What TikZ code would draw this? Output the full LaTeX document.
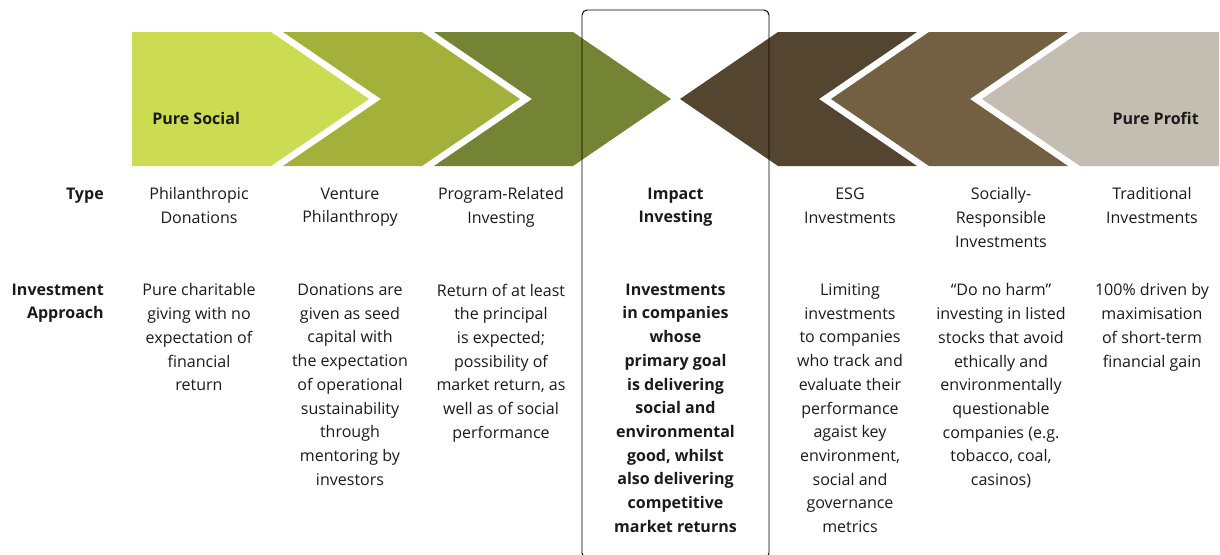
\documentclass[tikz,border=0pt]{standalone}
\usepackage{fontspec}
\setmainfont{Open Sans}

\definecolor{socialA}{RGB}{203,220,83}
\definecolor{socialB}{RGB}{163,177,58}
\definecolor{socialC}{RGB}{116,131,52}
\definecolor{profitC}{RGB}{84,69,48}
\definecolor{profitB}{RGB}{115,96,67}
\definecolor{profitA}{RGB}{196,189,177}
\definecolor{ink}{RGB}{26,26,26}

\tikzset{
  coltext/.style={anchor=north, align=center, inner sep=0pt, text=ink,
    font=\fontsize{11.4}{16.86}\selectfont},
  rowhead/.style={anchor=north east, align=right, inner sep=0pt, text=ink,
    font=\fontsize{11.4}{16.86}\selectfont\bfseries},
  bandtext/.style={inner sep=0pt, text=ink,
    font=\fontsize{11.4}{16.86}\selectfont\bfseries}
}

\begin{document}
\begin{tikzpicture}[x=2.5mm,y=-2.5mm]
\useasboundingbox (0,0) rectangle (122,55.4);
% Chevrons pointing right
\fill[socialA] (13.2,3.2)--(27.1,3.2)--(36.9,9.9)--(27.1,16.6)--(13.2,16.6)--cycle;
\fill[socialB] (28.3,3.2)--(42.2,3.2)--(52.0,9.9)--(42.2,16.6)--(28.3,16.6)--(38.1,9.9)--cycle;
\fill[socialC] (43.4,3.2)--(57.3,3.2)--(67.1,9.9)--(57.3,16.6)--(43.4,16.6)--(53.2,9.9)--cycle;
% Chevrons pointing left
\fill[profitC] (77.8,3.2)--(91.7,3.2)--(81.9,9.9)--(91.7,16.6)--(77.8,16.6)--(68.0,9.9)--cycle;
\fill[profitB] (92.9,3.2)--(106.8,3.2)--(97.0,9.9)--(106.8,16.6)--(92.9,16.6)--(83.1,9.9)--cycle;
\fill[profitA] (108.0,3.2)--(121.9,3.2)--(121.9,16.6)--(108.0,16.6)--(98.2,9.9)--cycle;
% Frame round the middle column
\draw[black,line width=0.7pt,rounded corners=1.25mm] (58.2,1.0) rectangle (76.9,55.8);
% Band labels
\node[bandtext,anchor=base west] (social) at (15.2,12.45) {Pure Social};
\node[bandtext,anchor=base east] (profit) at (119.9,12.45) {Pure Profit};
% Row headings
\node[rowhead] (type) at (10.4,18.75) {Type};
\node[rowhead] (approach) at (10.4,28.35) {Investment\\Approach};
% Type row
\node[coltext] (typeA) at (19.9,18.75) {Philanthropic\\Donations};
\node[coltext] (typeB) at (35.0,18.75) {Venture\\Philanthropy};
\node[coltext] (typeC) at (50.1,18.75) {Program-Related\\Investing};
\node[coltext,font=\fontsize{11.4}{16.86}\selectfont\bfseries] (typeD) at (67.55,18.75) {Impact\\Investing};
\node[coltext] (typeE) at (85.0,18.75) {ESG\\Investments};
\node[coltext] (typeF) at (100.1,18.75) {Socially-\\Responsible\\Investments};
\node[coltext] (typeG) at (115.2,18.75) {Traditional\\Investments};
% Investment approach row
\node[coltext] (appA) at (19.9,28.35) {Pure charitable\\giving with no\\expectation of\\financial\\return};
\node[coltext] (appB) at (35.0,28.35) {Donations are\\given as seed\\capital with\\the expectation\\of operational\\sustainability\\through\\mentoring by\\investors};
\node[coltext] (appC) at (50.1,28.35) {Return of at least\\the principal\\is expected;\\possibility of\\market return, as\\well as of social\\performance};
\node[coltext,font=\fontsize{11.4}{16.86}\selectfont\bfseries] (appD) at (67.55,28.35) {Investments\\in companies\\whose\\primary goal\\is delivering\\social and\\environmental\\good, whilst\\also delivering\\competitive\\market returns};
\node[coltext] (appE) at (85.0,28.35) {Limiting\\investments\\to companies\\who track and\\evaluate their\\performance\\agaist key\\environment,\\social and\\governance\\metrics};
\node[coltext] (appF) at (100.1,28.35) {“Do no harm”\\investing in listed\\stocks that avoid\\ethically and\\environmentally\\questionable\\companies (e.g.\\tobacco, coal,\\casinos)};
\node[coltext] (appG) at (115.2,28.35) {100\% driven by\\maximisation\\of short-term\\financial gain};
\end{tikzpicture}
\end{document}
